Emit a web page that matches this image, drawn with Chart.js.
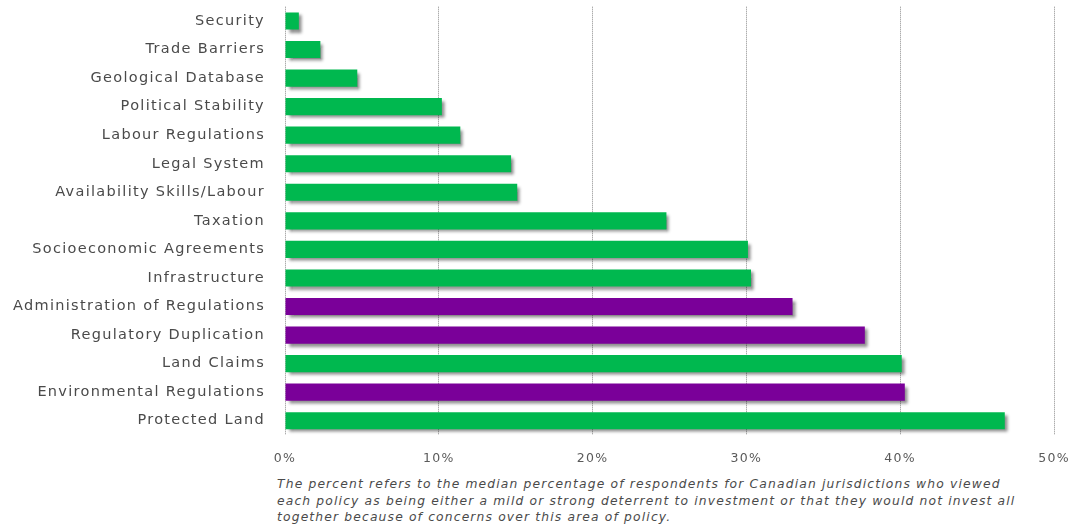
<!DOCTYPE html>
<html lang="en">
<head>
    <meta charset="UTF-8">
    <title>Policy Deterrents to Investment</title>
    <script src="https://cdn.jsdelivr.net/npm/chart.js"></script>
    <style>
        body {
            margin: 0;
            padding: 0;
            background: #fff;
            font-family: "DejaVu Sans", sans-serif;
        }
        .wrap {
            position: relative;
            width: 1073px;
            height: 529px;
            overflow: hidden;
        }
        .chart-box {
            position: absolute;
            left: 0;
            top: -22px;
            width: 1073px;
            height: 492px;
        }
        .note {
            position: absolute;
            left: 277px;
            top: 476px;
            font-size: 12.3px;
            line-height: 16.5px;
            letter-spacing: 1.16px;
            font-style: italic;
            color: #4a4a4a;
            white-space: nowrap;
        }
    </style>
</head>
<body>

<div class="wrap">
    <div class="chart-box">
        <canvas id="policyChart"></canvas>
    </div>
    <div class="note">
        The percent refers to the median percentage of respondents for Canadian jurisdictions who viewed<br>
        each policy as being either a mild or strong deterrent to investment or that they would not invest all<br>
        together because of concerns over this area of policy.
    </div>
</div>

<script>
    const categories = [
        'Security', 'Trade Barriers', 'Geological Database', 'Political Stability',
        'Labour Regulations', 'Legal System', 'Availability Skills/Labour', 'Taxation',
        'Socioeconomic Agreements', 'Infrastructure', 'Administration of Regulations',
        'Regulatory Duplication', 'Land Claims', 'Environmental Regulations', 'Protected Land'
    ];
    const percentValues = [0.9, 2.3, 4.7, 10.2, 11.4, 14.7, 15.1, 24.8, 30.1, 30.3, 33.0, 37.7, 40.1, 40.3, 46.8];
    const regulatoryItems = ['Administration of Regulations', 'Regulatory Duplication', 'Environmental Regulations'];
    const tickValues = [0, 10, 20, 30, 40, 50];

    const GREEN = '#00b84f';
    const PURPLE = '#7a0099';

    // the source text is set quite loose, so widen the canvas lettering a bit
    const looseText = {
        id: 'looseText',
        beforeInit(chart) { chart.ctx.letterSpacing = '1.3px'; },
        beforeDraw(chart) { chart.ctx.letterSpacing = '1.3px'; }
    };

    // drop shadow behind the bars
    const barShadow = {
        id: 'barShadow',
        beforeDatasetsDraw(chart) {
            const ctx = chart.ctx;
            ctx.save();
            ctx.shadowColor = 'rgba(0,0,0,0.45)';
            ctx.shadowBlur = 3;
            ctx.shadowOffsetX = 3;
            ctx.shadowOffsetY = 3;
        },
        afterDatasetsDraw(chart) {
            chart.ctx.restore();
        }
    };

    const ctx = document.getElementById('policyChart').getContext('2d');
    const policyChart = new Chart(ctx, {
        type: 'bar',
        data: {
            labels: categories,
            datasets: [{
                data: percentValues,
                backgroundColor: categories.map(c => regulatoryItems.includes(c) ? PURPLE : GREEN),
                borderWidth: 0,
                barPercentage: 0.6,
                categoryPercentage: 1.0
            }]
        },
        options: {
            indexAxis: 'y',
            responsive: true,
            maintainAspectRatio: false,
            animation: false,
            layout: { padding: { top: 5, right: 19, bottom: 0, left: 0 } },
            plugins: {
                legend: { display: false },
                tooltip: { enabled: false }
            },
            scales: {
                x: {
                    min: 0,
                    max: 50,
                    afterBuildTicks(scale) {
                        scale.ticks = tickValues.map(v => ({ value: v }));
                    },
                    afterFit(scale) {
                        scale.height = 35;
                        scale.paddingRight = 0;
                    },
                    border: { display: false, dash: [1, 1] },
                    grid: {
                        color: '#8a8a8a',
                        lineWidth: 1,
                        drawTicks: false
                    },
                    ticks: {
                        padding: 16,
                        color: '#5a5a5a',
                        font: { family: '"DejaVu Sans", sans-serif', size: 12.5 },
                        callback: v => v + '%'
                    }
                },
                y: {
                    afterFit(scale) { scale.width = 285; },
                    border: { display: false },
                    grid: { display: false, drawTicks: false },
                    ticks: {
                        padding: 20,
                        color: '#4a4a4a',
                        font: { family: '"DejaVu Sans", sans-serif', size: 14.5 }
                    }
                }
            }
        },
        plugins: [looseText, barShadow]
    });
</script>

</body>
</html>
